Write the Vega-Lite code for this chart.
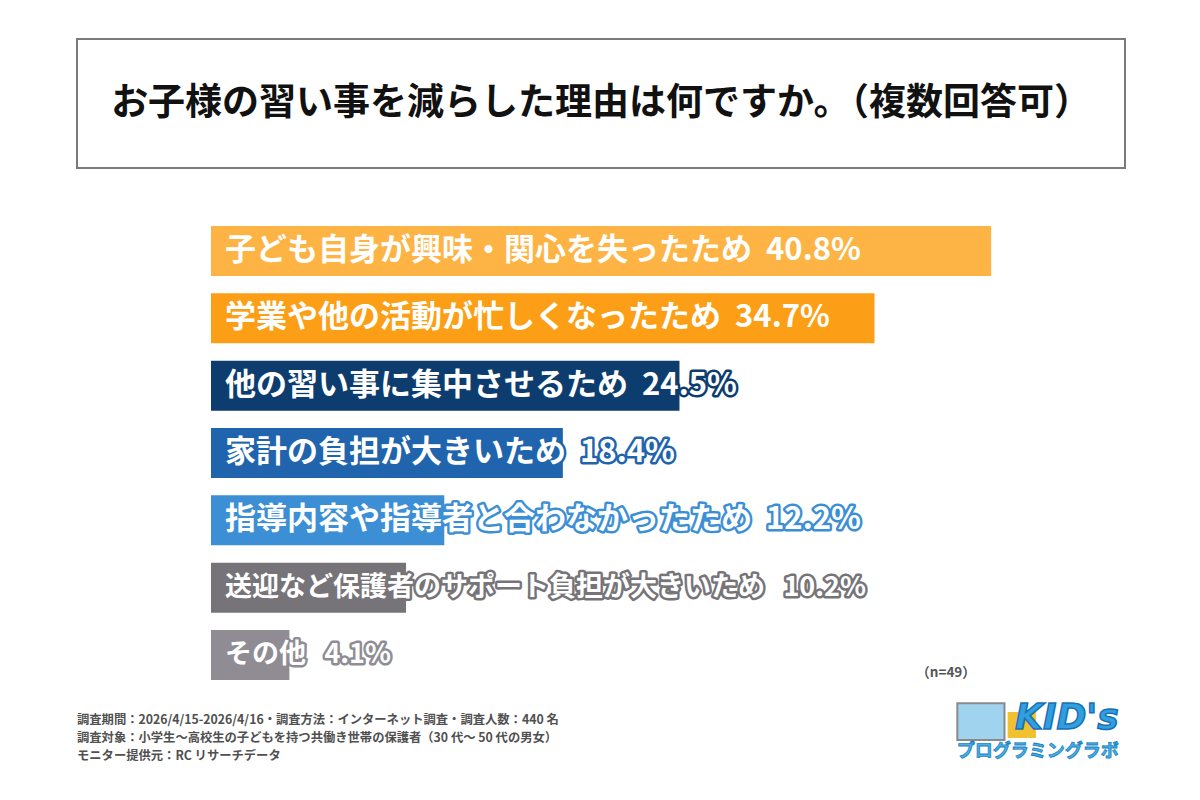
{
  "$schema": "https://vega.github.io/schema/vega-lite/v6.json",
  "background": "white",
  "padding": {"left": 76, "top": 38, "right": 0, "bottom": 0},
  "spacing": 8,
  "config": {"view": {"stroke": null}, "font": "Noto Sans CJK JP"},
  "resolve": {"scale": {"x": "independent", "y": "independent", "color": "independent", "stroke": "independent"}},
  "vconcat": [
    {
      "width": 1048,
      "height": 129,
      "view": {"stroke": "#7a7a7a", "strokeWidth": 2},
      "data": {"values": [{"t": "お子様の習い事を減らした理由は何ですか。（複数回答可）"}]},
      "mark": {"type": "text", "fontSize": 37, "fontWeight": "bold", "color": "#111111"},
      "encoding": {"text": {"field": "t"}}
    },
    {
      "width": 1048,
      "height": 503,
      "data": {"values": [
        {"reason": "子ども自身が興味・関心を失ったため", "value": 40.8},
        {"reason": "学業や他の活動が忙しくなったため", "value": 34.7},
        {"reason": "他の習い事に集中させるため", "value": 24.5},
        {"reason": "家計の負担が大きいため", "value": 18.4},
        {"reason": "指導内容や指導者と合わなかったため", "value": 12.2},
        {"reason": "送迎など保護者のサポート負担が大きいため", "value": 10.2},
        {"reason": "その他", "value": 4.1}
      ]},
      "transform": [
        {"calculate": "datum.reason + '\u00a0\u00a0' + format(datum.value, '.1f') + '%'", "as": "label_big"},
        {"calculate": "datum.reason + '\u00a0\u00a0\u00a0' + format(datum.value, '.1f') + '%'", "as": "label_small"}
      ],
      "layer": [
        {
          "mark": {"type": "bar"},
          "encoding": {
            "y": {"field": "reason", "type": "nominal", "sort": null, "axis": null,
                  "scale": {"paddingInner": 0.257, "paddingOuter": 0.364, "align": 1}},
            "x": {"field": "value", "type": "quantitative", "axis": null,
                  "scale": {"domain": [-7.008, 47.8], "nice": false, "zero": false}},
            "color": {"field": "reason", "type": "nominal", "legend": null,
                      "scale": {"domain": ["子ども自身が興味・関心を失ったため", "学業や他の活動が忙しくなったため", "他の習い事に集中させるため", "家計の負担が大きいため", "指導内容や指導者と合わなかったため", "送迎など保護者のサポート負担が大きいため", "その他"],
                                "range": ["#FDB444", "#FC9F16", "#0D3D6E", "#1F64AC", "#3C8FD4", "#767479", "#8F8D93"]}}
          }
        },
        {
          "transform": [{"filter": {"not": {"field": "reason", "oneOf": ["送迎など保護者のサポート負担が大きいため", "その他"]}}}],
          "mark": {"type": "text", "align": "left", "baseline": "middle", "dx": 14, "fontSize": 31, "fontWeight": "bold", "strokeWidth": 5, "strokeJoin": "round"},
          "encoding": {
            "y": {"field": "reason", "type": "nominal", "sort": null},
            "x": {"datum": 0, "type": "quantitative"},
            "text": {"field": "label_big"},
            "color": {"field": "reason", "type": "nominal", "legend": null},
            "stroke": {"field": "reason", "type": "nominal", "legend": null,
                       "scale": {"domain": ["子ども自身が興味・関心を失ったため", "学業や他の活動が忙しくなったため", "他の習い事に集中させるため", "家計の負担が大きいため", "指導内容や指導者と合わなかったため", "送迎など保護者のサポート負担が大きいため", "その他"],
                                 "range": ["#FDB444", "#FC9F16", "#0D3D6E", "#1F64AC", "#3C8FD4", "#767479", "#8F8D93"]}}
          }
        },
        {
          "transform": [{"filter": {"not": {"field": "reason", "oneOf": ["送迎など保護者のサポート負担が大きいため", "その他"]}}}],
          "mark": {"type": "text", "align": "left", "baseline": "middle", "dx": 14, "fontSize": 31, "fontWeight": "bold", "color": "white"},
          "encoding": {
            "y": {"field": "reason", "type": "nominal", "sort": null},
            "x": {"datum": 0, "type": "quantitative"},
            "text": {"field": "label_big"}
          }
        },
        {
          "transform": [{"filter": {"field": "reason", "oneOf": ["送迎など保護者のサポート負担が大きいため", "その他"]}}],
          "mark": {"type": "text", "align": "left", "baseline": "middle", "dx": 14, "fontSize": 27, "fontWeight": "bold", "strokeWidth": 5, "strokeJoin": "round"},
          "encoding": {
            "y": {"field": "reason", "type": "nominal", "sort": null},
            "x": {"datum": 0, "type": "quantitative"},
            "text": {"field": "label_small"},
            "color": {"field": "reason", "type": "nominal", "legend": null},
            "stroke": {"field": "reason", "type": "nominal", "legend": null}
          }
        },
        {
          "transform": [{"filter": {"field": "reason", "oneOf": ["送迎など保護者のサポート負担が大きいため", "その他"]}}],
          "mark": {"type": "text", "align": "left", "baseline": "middle", "dx": 14, "fontSize": 27, "fontWeight": "bold", "color": "white"},
          "encoding": {
            "y": {"field": "reason", "type": "nominal", "sort": null},
            "x": {"datum": 0, "type": "quantitative"},
            "text": {"field": "label_small"}
          }
        },
        {
          "data": {"values": [{"t": "（n=49）"}]},
          "mark": {"type": "text", "align": "right", "baseline": "bottom", "fontSize": 13.5, "fontWeight": "bold", "color": "#555555"},
          "encoding": {
            "y": {"datum": "その他", "type": "nominal", "bandPosition": 1},
            "x": {"datum": 40.0, "type": "quantitative"},
            "text": {"field": "t"}
          }
        }
      ]
    },
    {
      "width": 1048,
      "height": 80,
      "layer": [
        {
          "data": {"values": [{"t": "調査期間：2026/4/15-2026/4/16・調査方法：インターネット調査・調査人数：440 名\n調査対象：小学生～高校生の子どもを持つ共働き世帯の保護者（30 代～ 50 代の男女）\nモニター提供元：RC リサーチデータ"}]},
          "mark": {"type": "text", "align": "left", "baseline": "middle", "lineBreak": "\n", "lineHeight": 18, "fontSize": 12.3, "fontWeight": "bold", "color": "#505050"},
          "encoding": {
            "x": {"datum": 0, "type": "quantitative", "axis": null, "scale": {"domain": [0, 1], "nice": false, "zero": false}},
            "y": {"datum": 0.4, "type": "quantitative", "axis": null, "scale": {"domain": [0, 1], "nice": false, "zero": false, "reverse": true}},
            "text": {"field": "t"}
          }
        },
        {
          "data": {"values": [{"part": "screen"}]},
          "mark": {"type": "rect", "fill": "#9fd3ee", "stroke": "#8a8a8a", "strokeWidth": 2},
          "encoding": {
            "x": {"datum": 0.84, "type": "quantitative"},
            "x2": {"datum": 0.885},
            "y": {"datum": 0.19, "type": "quantitative"},
            "y2": {"datum": 0.65}
          }
        },
        {
          "data": {"values": [{"part": "flag"}]},
          "mark": {"type": "rect", "fill": "#f2c12e"},
          "encoding": {
            "x": {"datum": 0.888, "type": "quantitative"},
            "x2": {"datum": 0.915},
            "y": {"datum": 0.3, "type": "quantitative"},
            "y2": {"datum": 0.625}
          }
        },
        {
          "data": {"values": [{"t": "KID's"}]},
          "mark": {"type": "text", "align": "right", "baseline": "middle", "fontSize": 36, "fontWeight": "bold", "fontStyle": "italic", "fill": "#2f9fe0", "stroke": "#1a70b5", "strokeWidth": 1.5, "font": "DejaVu Sans"},
          "encoding": {
            "x": {"datum": 0.994, "type": "quantitative"},
            "y": {"datum": 0.375, "type": "quantitative"},
            "text": {"field": "t"}
          }
        },
        {
          "data": {"values": [{"t": "プログラミングラボ"}]},
          "mark": {"type": "text", "align": "right", "baseline": "middle", "fontSize": 18, "fontWeight": "bold", "fill": "#4ab0e6", "stroke": "#1a7fc0", "strokeWidth": 0.8},
          "encoding": {
            "x": {"datum": 0.994, "type": "quantitative"},
            "y": {"datum": 0.8, "type": "quantitative"},
            "text": {"field": "t"}
          }
        }
      ]
    }
  ]
}
